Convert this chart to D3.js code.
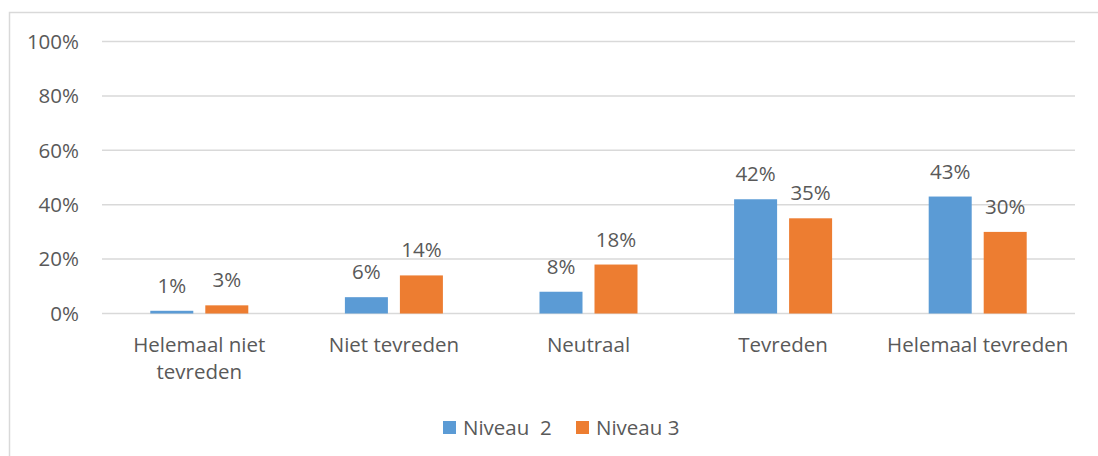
<!DOCTYPE html>
<html>
<head>
<meta charset="utf-8">
<script src="https://cdn.jsdelivr.net/npm/d3@7"></script>
<style>
  body { margin: 0; background: #fff; }
  text { font-family: "Open Sans", sans-serif; fill: #595959; }
</style>
</head>
<body>
<svg id="chart" width="1098" height="456"></svg>
<script>
var categories = [["Helemaal niet", "tevreden"], ["Niet tevreden"], ["Neutraal"], ["Tevreden"], ["Helemaal tevreden"]];
var seriesNames = ["Niveau  2", "Niveau 3"];
var niveau2 = [1, 6, 8, 42, 43];
var niveau3 = [3, 14, 18, 35, 30];
var yTicks = [0, 20, 40, 60, 80, 100];
var colors = ["#5b9bd5", "#ed7d31"];

var fontSize = 20.5;
var svg = d3.select("#chart");

// outer chart border (runs past the right and bottom edge)
svg.append("rect")
    .attr("x", 9.5).attr("y", 12.5)
    .attr("width", 1200).attr("height", 600)
    .attr("fill", "none").attr("stroke", "#d9d9d9").attr("stroke-width", 1.5);

var plotLeft = 102, plotRight = 1075, plotTop = 41.5, plotBottom = 313.5;

var x = d3.scaleBand()
    .domain(d3.range(categories.length))
    .range([plotLeft, plotRight]);

var y = d3.scaleLinear().domain([0, 100]).range([plotBottom, plotTop]);

var barW = 43, gap = 12;

// gridlines
svg.append("g").selectAll("line")
    .data(yTicks)
    .join("line")
    .attr("x1", plotLeft).attr("x2", plotRight)
    .attr("y1", function(d) { return y(d); })
    .attr("y2", function(d) { return y(d); })
    .attr("stroke", "#d9d9d9").attr("stroke-width", 1.5);

// y tick labels
svg.append("g").selectAll("text")
    .data(yTicks)
    .join("text")
    .attr("x", 79)
    .attr("y", function(d) { return y(d); })
    .attr("dy", "0.36em")
    .attr("text-anchor", "end")
    .style("font-size", fontSize + "px")
    .text(function(d) { return d + "%"; });

var series = [niveau2, niveau3];
series.forEach(function(vals, si) {
    var g = svg.append("g");
    var xPos = function(d, i) {
        var c = x(i) + x.bandwidth() / 2;
        return si == 0 ? c - gap / 2 - barW : c + gap / 2;
    };
    g.selectAll("rect")
        .data(vals)
        .join("rect")
        .attr("x", xPos)
        .attr("y", function(d) { return y(d); })
        .attr("width", barW)
        .attr("height", function(d) { return plotBottom - y(d); })
        .attr("fill", colors[si]);
    g.selectAll("text")
        .data(vals)
        .join("text")
        .attr("x", function(d, i) { return xPos(d, i) + barW / 2; })
        .attr("y", function(d) { return y(d) - 18; })
        .attr("text-anchor", "middle")
        .style("font-size", fontSize + "px")
        .text(function(d) { return d + "%"; });
});

// category labels
var cat = svg.append("g").selectAll("text")
    .data(categories)
    .join("text")
    .attr("x", function(d, i) { return x(i) + x.bandwidth() / 2; })
    .attr("y", 352)
    .attr("text-anchor", "middle")
    .style("font-size", fontSize + "px");
cat.selectAll("tspan")
    .data(function(d) { return d; })
    .join("tspan")
    .attr("x", function() { return d3.select(this.parentNode).attr("x"); })
    .attr("dy", function(d, i) { return i == 0 ? 0 : 27; })
    .text(function(d) { return d; });

// legend
var legendX = [443, 576];
var legend = svg.append("g").selectAll("g")
    .data(seriesNames)
    .join("g")
    .attr("transform", function(d, i) { return "translate(" + legendX[i] + ",421)"; });
legend.append("rect")
    .attr("width", 13).attr("height", 13)
    .attr("fill", function(d, i) { return colors[i]; });
legend.append("text")
    .attr("x", 20).attr("y", 6.5).attr("dy", "0.36em")
    .attr("xml:space", "preserve")
    .style("white-space", "pre")
    .style("font-size", fontSize + "px")
    .text(function(d) { return d; });
</script>
</body>
</html>
